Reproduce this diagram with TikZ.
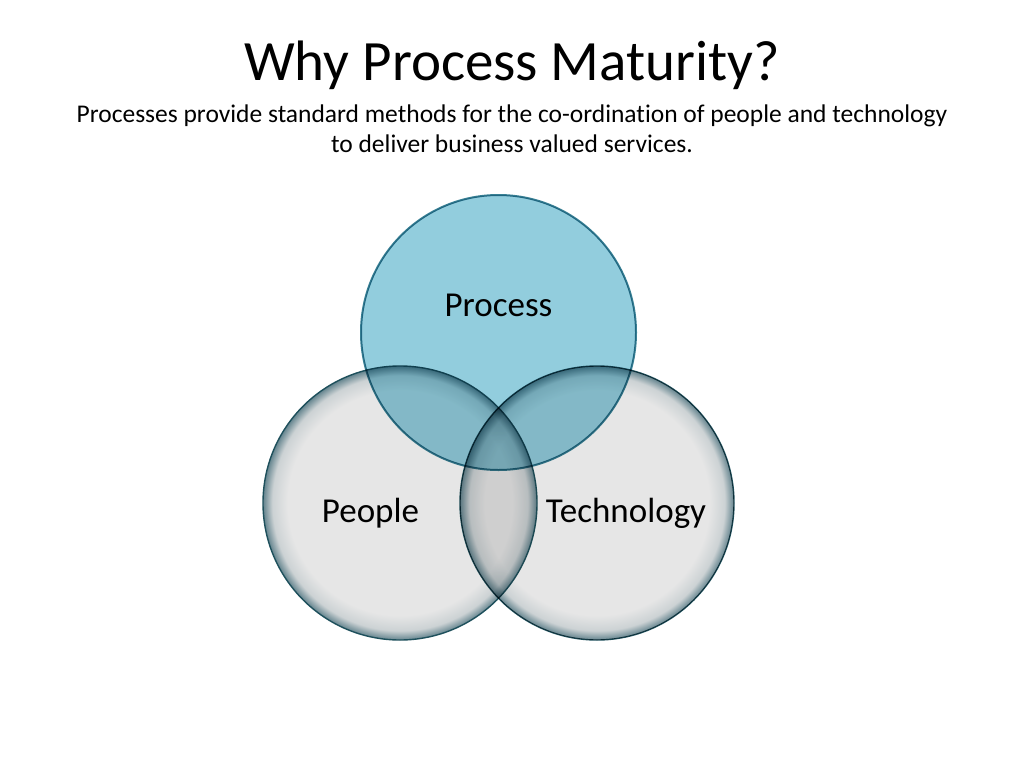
\documentclass[tikz,border=0pt]{standalone}
\usepackage{fontspec}
\setmainfont[Ligatures=NoCommon]{Carlito}

\definecolor{procfill}{RGB}{146,205,221}
\definecolor{procline}{RGB}{56,128,148}
\definecolor{ringline}{RGB}{30,80,92}
\definecolor{ringfill}{RGB}{230,230,230}
\definecolor{ringmid}{RGB}{204,210,212}
\definecolor{ringedge}{RGB}{100,132,142}
\pgfdeclareradialshading{rimglow}{\pgfpointorigin}{color(0bp)=(ringfill); color(20.5bp)=(ringfill); color(23.3bp)=(ringmid); color(25bp)=(ringedge); color(50bp)=(ringedge)}

\begin{document}
\begin{tikzpicture}[x=1pt,y=-1pt]
\tikzset{ring/.style = {shape=circle,draw=ringline,line width=1.4pt,minimum size=274pt,inner sep=0pt,shading=rimglow}}
\tikzset{proc/.style = {shape=circle,draw=procline,line width=2pt,minimum size=275pt,inner sep=0pt,fill=procfill}}
\tikzset{word/.style = {anchor=base,font=\fontsize{35}{42}\selectfont}}
\tikzset{subline/.style = {anchor=base,font=\fontsize{25.5}{30}\selectfont}}
\useasboundingbox (0,0) rectangle (1024,768);
% heading
\node[anchor=base,font=\fontsize{57}{68}\selectfont] (title) at (512,80) {Why Process Maturity?};
\node[subline] (sub1) at (512,122) {Processes provide standard methods for the co-ordination of people and technology};
\node[subline] (sub2) at (512,152) {to deliver business valued services.};
% circles
\node[ring] (people) at (400,503) {};
\begin{scope}[blend mode=multiply]
\node[ring] (tech) at (597,503) {};
\node[proc] (process) at (498.5,332.5) {};
\end{scope}
% labels
\node[word] (lproc) at (498.5,316) {Process};
\node[word] (lpeople) at (370.5,522) {People};
\node[word] (ltech) at (626,522) {Technology};
\end{tikzpicture}
\end{document}
